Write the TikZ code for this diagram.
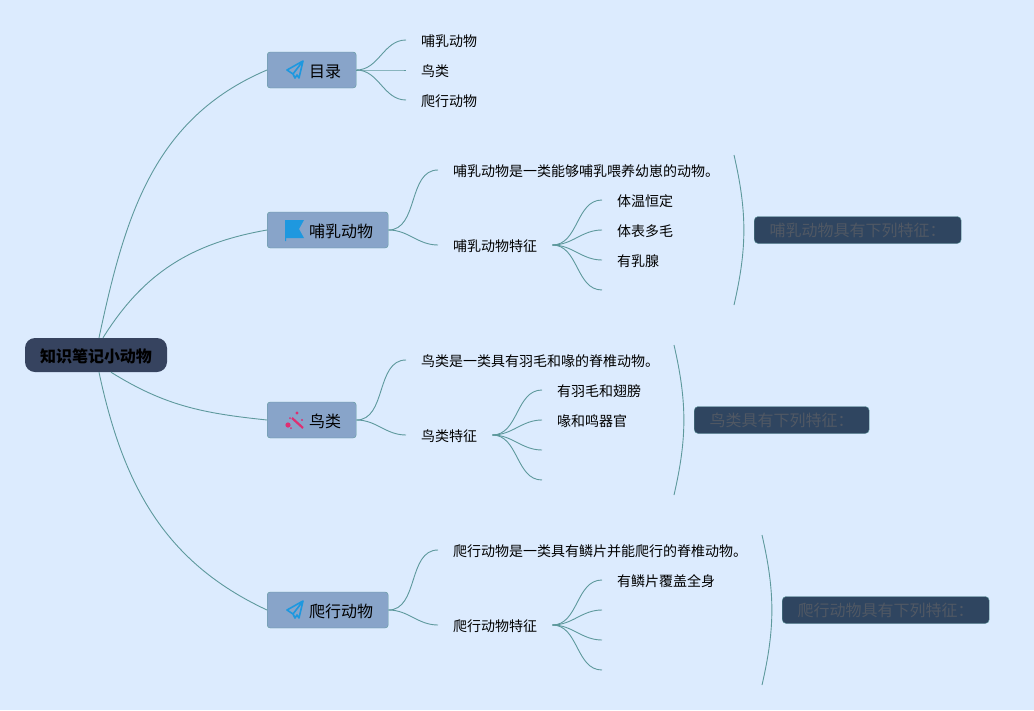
\documentclass[tikz,border=0pt]{standalone}
\usepackage{fontspec}
\setmainfont{Noto Sans CJK SC}
\definecolor{pagebg}{HTML}{DCEBFE}
\definecolor{linkcol}{HTML}{5E999D}
\definecolor{topicfill}{HTML}{88A4C9}
\definecolor{rootfill}{HTML}{36435F}
\definecolor{notefill}{HTML}{2F4560}
\definecolor{notetext}{HTML}{505864}
\definecolor{iconblue}{HTML}{1E98DF}
\definecolor{iconpink}{HTML}{DE2F72}
\begin{document}
\begin{tikzpicture}[x=1pt, y=1pt]
        \tikzset{
            root/.style={draw=none,fill=rootfill,rounded corners=10pt,minimum width=142pt,minimum height=34pt,inner xsep=0pt,text height=14pt,text depth=0pt,font=\fontsize{16}{18}\selectfont\bfseries,text=black},
            topic/.style={draw=linkcol,fill=topicfill,rounded corners=3pt,minimum height=36pt,inner xsep=15pt,anchor=west,text height=14pt,text depth=0pt,font=\fontsize{16}{18}\selectfont},
            leaf/.style={inner xsep=15pt,inner ysep=0pt,anchor=west,text height=13pt,text depth=0pt,font=\fontsize{14}{16}\selectfont,text=black},
            note/.style={draw=linkcol,fill=notefill,rounded corners=4pt,minimum height=27pt,inner xsep=15.5pt,anchor=west,text height=13pt,text depth=0pt,font=\fontsize{16}{18}\selectfont,text=notetext},
            link/.style={draw=linkcol,line width=.9pt},
            plane/.pic={\draw[iconblue,line width=1.6pt,line join=round] (8,9) -- (-8,0) -- (-2,-4) -- (0,-8) -- (2,-5) -- (4,-8) -- cycle (8,9) -- (-2,-4);},
            flag/.pic={\fill[iconblue] (-10,10) -- (9,10) -- (4,1) -- (9,-8) -- (-9,-8) -- (-9,-11) -- (-10,-11) -- cycle;},
            wand/.pic={\draw[iconpink,line width=2.2pt] (-3,2) -- (8,-8);
                \fill[iconpink] (2,7) circle (1.6) (7,0) circle (1.2) (-7,-5) circle (2.6) (-4,-8) circle (1) (-5,2) circle (1);}
        }

        \fill[pagebg] (0,-710) rectangle (1034,0);
        \useasboundingbox (0,-710) rectangle (1034,0);

        \node[root] (R) at (96,-355) {知识笔记小动物};

        \node[topic] (T1) at (267,-70) {\hspace*{27pt}目录};
        \node[topic] (T2) at (267,-230) {\hspace*{27pt}哺乳动物};
        \node[topic] (T3) at (267,-420) {\hspace*{27pt}鸟类};
        \node[topic] (T4) at (267,-610) {\hspace*{27pt}爬行动物};
        \pic at (295,-70) {plane};
        \pic at (295,-230) {flag};
        \pic at (295,-420) {wand};
        \pic at (295,-610) {plane};

        \draw[link] ([xshift=3pt]R.north) to[out=78,in=203] (T1.west);
        \draw[link] ([xshift=7pt]R.north) to[out=58,in=190] (T2.west);
        \draw[link] ([xshift=15pt]R.south) to[out=-32,in=174] (T3.west);
        \draw[link] ([xshift=3pt]R.south) to[out=-78,in=155] (T4.west);

        \node[leaf] (A1) at (406,-40) {哺乳动物};
        \node[leaf] (A2) at (406,-70) {鸟类};
        \node[leaf] (A3) at (406,-100) {爬行动物};
        \foreach \n in {A1,A2,A3}
            \draw[link] (T1.east) to[out=0,in=180] (\n.west);

        \node[leaf] (B1) at (438,-170) {哺乳动物是一类能够哺乳喂养幼崽的动物。};
        \node[leaf] (B2) at (438,-245) {哺乳动物特征};
        \node[leaf] (B3) at (602,-200) {体温恒定};
        \node[leaf] (B4) at (602,-230) {体表多毛};
        \node[leaf] (B5) at (602,-260) {有乳腺};
        \coordinate (B6) at (602,-290);
        \draw[link] (T2.east) to[out=0,in=180] (B1.west);
        \draw[link] (T2.east) to[out=0,in=180] (B2.west);
        \foreach \n in {B3,B4,B5}
            \draw[link] (B2.east) to[out=0,in=180] (\n.west);
        \draw[link] (B2.east) to[out=0,in=180] (B6);

        \node[leaf] (C1) at (406,-360) {鸟类是一类具有羽毛和喙的脊椎动物。};
        \node[leaf] (C2) at (406,-435) {鸟类特征};
        \node[leaf] (C3) at (542,-390) {有羽毛和翅膀};
        \node[leaf] (C4) at (542,-420) {喙和鸣器官};
        \coordinate (C5) at (542,-450);
        \coordinate (C6) at (542,-480);
        \draw[link] (T3.east) to[out=0,in=180] (C1.west);
        \draw[link] (T3.east) to[out=0,in=180] (C2.west);
        \foreach \n in {C3,C4}
            \draw[link] (C2.east) to[out=0,in=180] (\n.west);
        \foreach \n in {C5,C6}
            \draw[link] (C2.east) to[out=0,in=180] (\n);

        \node[leaf] (D1) at (438,-550) {爬行动物是一类具有鳞片并能爬行的脊椎动物。};
        \node[leaf] (D2) at (438,-625) {爬行动物特征};
        \node[leaf] (D3) at (602,-580) {有鳞片覆盖全身};
        \coordinate (D4) at (602,-610);
        \coordinate (D5) at (602,-640);
        \coordinate (D6) at (602,-670);
        \draw[link] (T4.east) to[out=0,in=180] (D1.west);
        \draw[link] (T4.east) to[out=0,in=180] (D2.west);
        \draw[link] (D2.east) to[out=0,in=180] (D3.west);
        \foreach \n in {D4,D5,D6}
            \draw[link] (D2.east) to[out=0,in=180] (\n);

        \node[note] (N1) at (754,-230) {哺乳动物具有下列特征：};
        \node[note] (N2) at (694,-420) {鸟类具有下列特征：};
        \node[note] (N3) at (782,-610) {爬行动物具有下列特征：};
        \coordinate (S1a) at (734,-155);
        \coordinate (S1b) at (734,-305);
        \coordinate (S2a) at (674,-345);
        \coordinate (S2b) at (674,-495);
        \coordinate (S3a) at (762,-535);
        \coordinate (S3b) at (762,-685);
        \draw[link] (S1a) to[bend left=13] (S1b);
        \draw[link] (S2a) to[bend left=13] (S2b);
        \draw[link] (S3a) to[bend left=13] (S3b);
\end{tikzpicture}
\end{document}
